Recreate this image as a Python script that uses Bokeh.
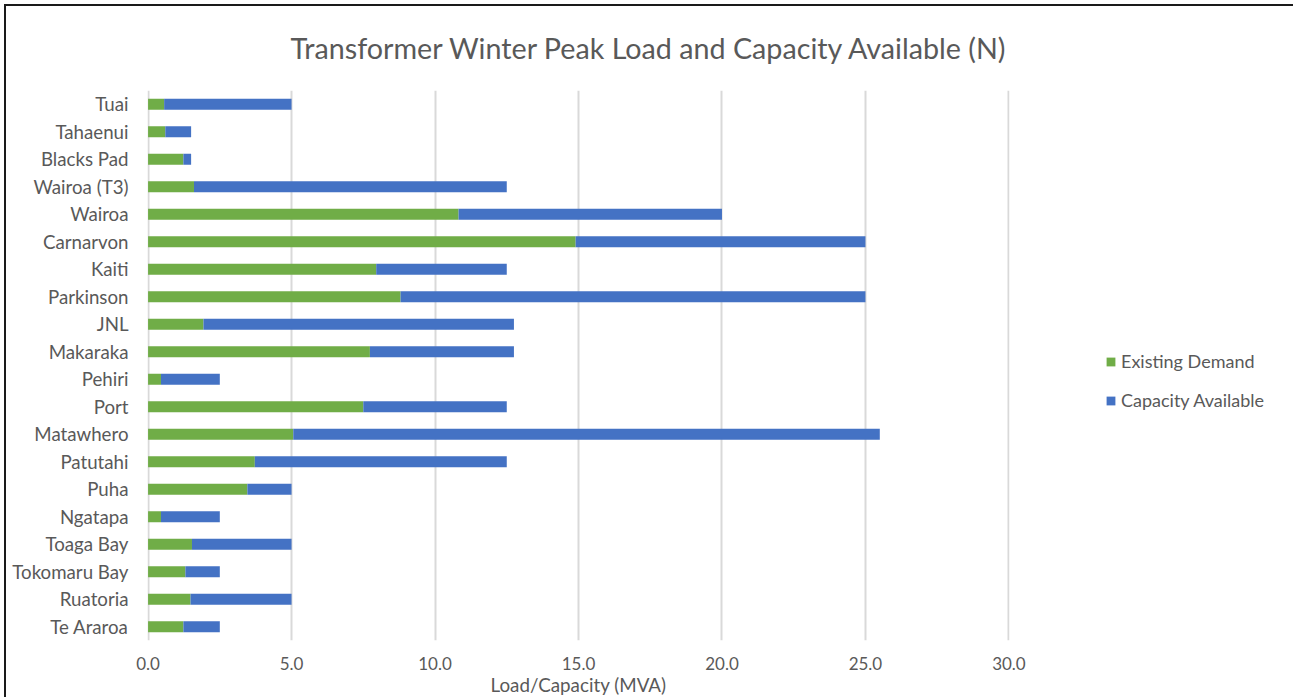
from bokeh.plotting import figure
from bokeh.models import (ColumnDataSource, FactorRange, Range1d, Legend, LegendItem,
                          FixedTicker, NumeralTickFormatter)
from bokeh.embed import file_html
from bokeh.resources import INLINE

# Substations, bottom to top
substations = ["Te Araroa", "Ruatoria", "Tokomaru Bay", "Toaga Bay", "Ngatapa", "Puha",
               "Patutahi", "Matawhero", "Port", "Pehiri", "Makaraka", "JNL", "Parkinson",
               "Kaiti", "Carnarvon", "Wairoa", "Wairoa (T3)", "Blacks Pad", "Tahaenui", "Tuai"]

# Winter peak load (MVA)
existing_demand = [1.23, 1.48, 1.30, 1.53, 0.45, 3.46, 3.72, 5.06, 7.50, 0.45,
                   7.73, 1.93, 8.80, 7.95, 14.90, 10.82, 1.60, 1.23, 0.60, 0.56]

# Remaining N capacity on top of the load (MVA)
capacity_available = [1.27, 3.52, 1.20, 3.47, 2.05, 1.54, 8.78, 20.44, 5.00, 2.05,
                      5.02, 10.82, 16.20, 4.55, 10.10, 9.18, 10.90, 0.27, 0.90, 4.44]

x_ticks = [0, 5, 10, 15, 20, 25, 30]

GREEN = "#70AD47"
BLUE = "#4472C4"
TEXT = "#595959"
FONT = "Lato"

source = ColumnDataSource(dict(
    substation=substations,
    existing_demand=existing_demand,
    capacity_available=capacity_available,
))

p = figure(
    y_range=FactorRange(*substations, range_padding=0),
    x_range=Range1d(-0.02, 30.02),
    frame_width=862, frame_height=550,
    min_border_left=141, min_border_right=279,
    min_border_top=84, min_border_bottom=57,
    output_backend="svg", toolbar_location=None,
    background_fill_color="white", border_fill_color="white",
    title="Transformer  Winter Peak Load and Capacity Available (N)",
)
p.outline_line_color = None

p.title.align = "left"
p.title.vertical_align = "top"
p.title.offset = 143
p.title.standoff = 47
p.title.text_font = FONT
p.title.text_font_size = "28.7px"
p.title.text_font_style = "normal"
p.title.text_color = TEXT

renderers = p.hbar_stack(
    ["existing_demand", "capacity_available"],
    y="substation", height=0.4, color=[GREEN, BLUE], line_width=0,
    source=source,
)

# grid
p.ygrid.grid_line_color = None
p.xgrid.grid_line_color = "#d9d9d9"
p.xgrid.grid_line_width = 2

# x axis
p.xaxis.ticker = FixedTicker(ticks=x_ticks)
p.xaxis.formatter = NumeralTickFormatter(format="0.0")
p.xaxis.axis_line_color = None
p.xaxis.major_tick_line_color = None
p.xaxis.minor_tick_line_color = None
p.xaxis.major_label_standoff = 10
p.xaxis.major_label_text_font = FONT
p.xaxis.major_label_text_font_size = "17px"
p.xaxis.major_label_text_color = TEXT
p.xaxis.axis_label = "Load/Capacity (MVA)"
p.xaxis.axis_label_standoff = 0
p.xaxis.axis_label_text_font = FONT
p.xaxis.axis_label_text_font_size = "18.8px"
p.xaxis.axis_label_text_font_style = "normal"
p.xaxis.axis_label_text_color = TEXT

# y axis
p.yaxis.axis_line_color = None
p.yaxis.major_tick_line_color = None
p.yaxis.minor_tick_line_color = None
p.yaxis.major_tick_out = 0
p.yaxis.major_label_standoff = 19
p.yaxis.major_label_text_font = FONT
p.yaxis.major_label_text_font_size = "18.7px"
p.yaxis.major_label_text_color = TEXT

legend = Legend(
    items=[
        LegendItem(label="Existing Demand", renderers=[renderers[0]]),
        LegendItem(label="Capacity Available", renderers=[renderers[1]]),
    ],
    location=(96, 229),
    orientation="vertical",
    glyph_width=11, glyph_height=11, label_standoff=5,
    label_height=20, spacing=17, padding=0, margin=48,
    border_line_color=None, background_fill_alpha=0,
    label_text_font=FONT, label_text_font_size="18px", label_text_color=TEXT,
)
p.add_layout(legend, "right")

# dark frame around the chart area
p.styles = {
    "margin-left": "4px", "margin-top": "4px",
    "border-left": "2px solid #1a1a1a", "border-right": "2px solid #1a1a1a",
    "border-top": "2px solid #1a1a1a",
}

open("out.html", "w").write(file_html(p, INLINE))
